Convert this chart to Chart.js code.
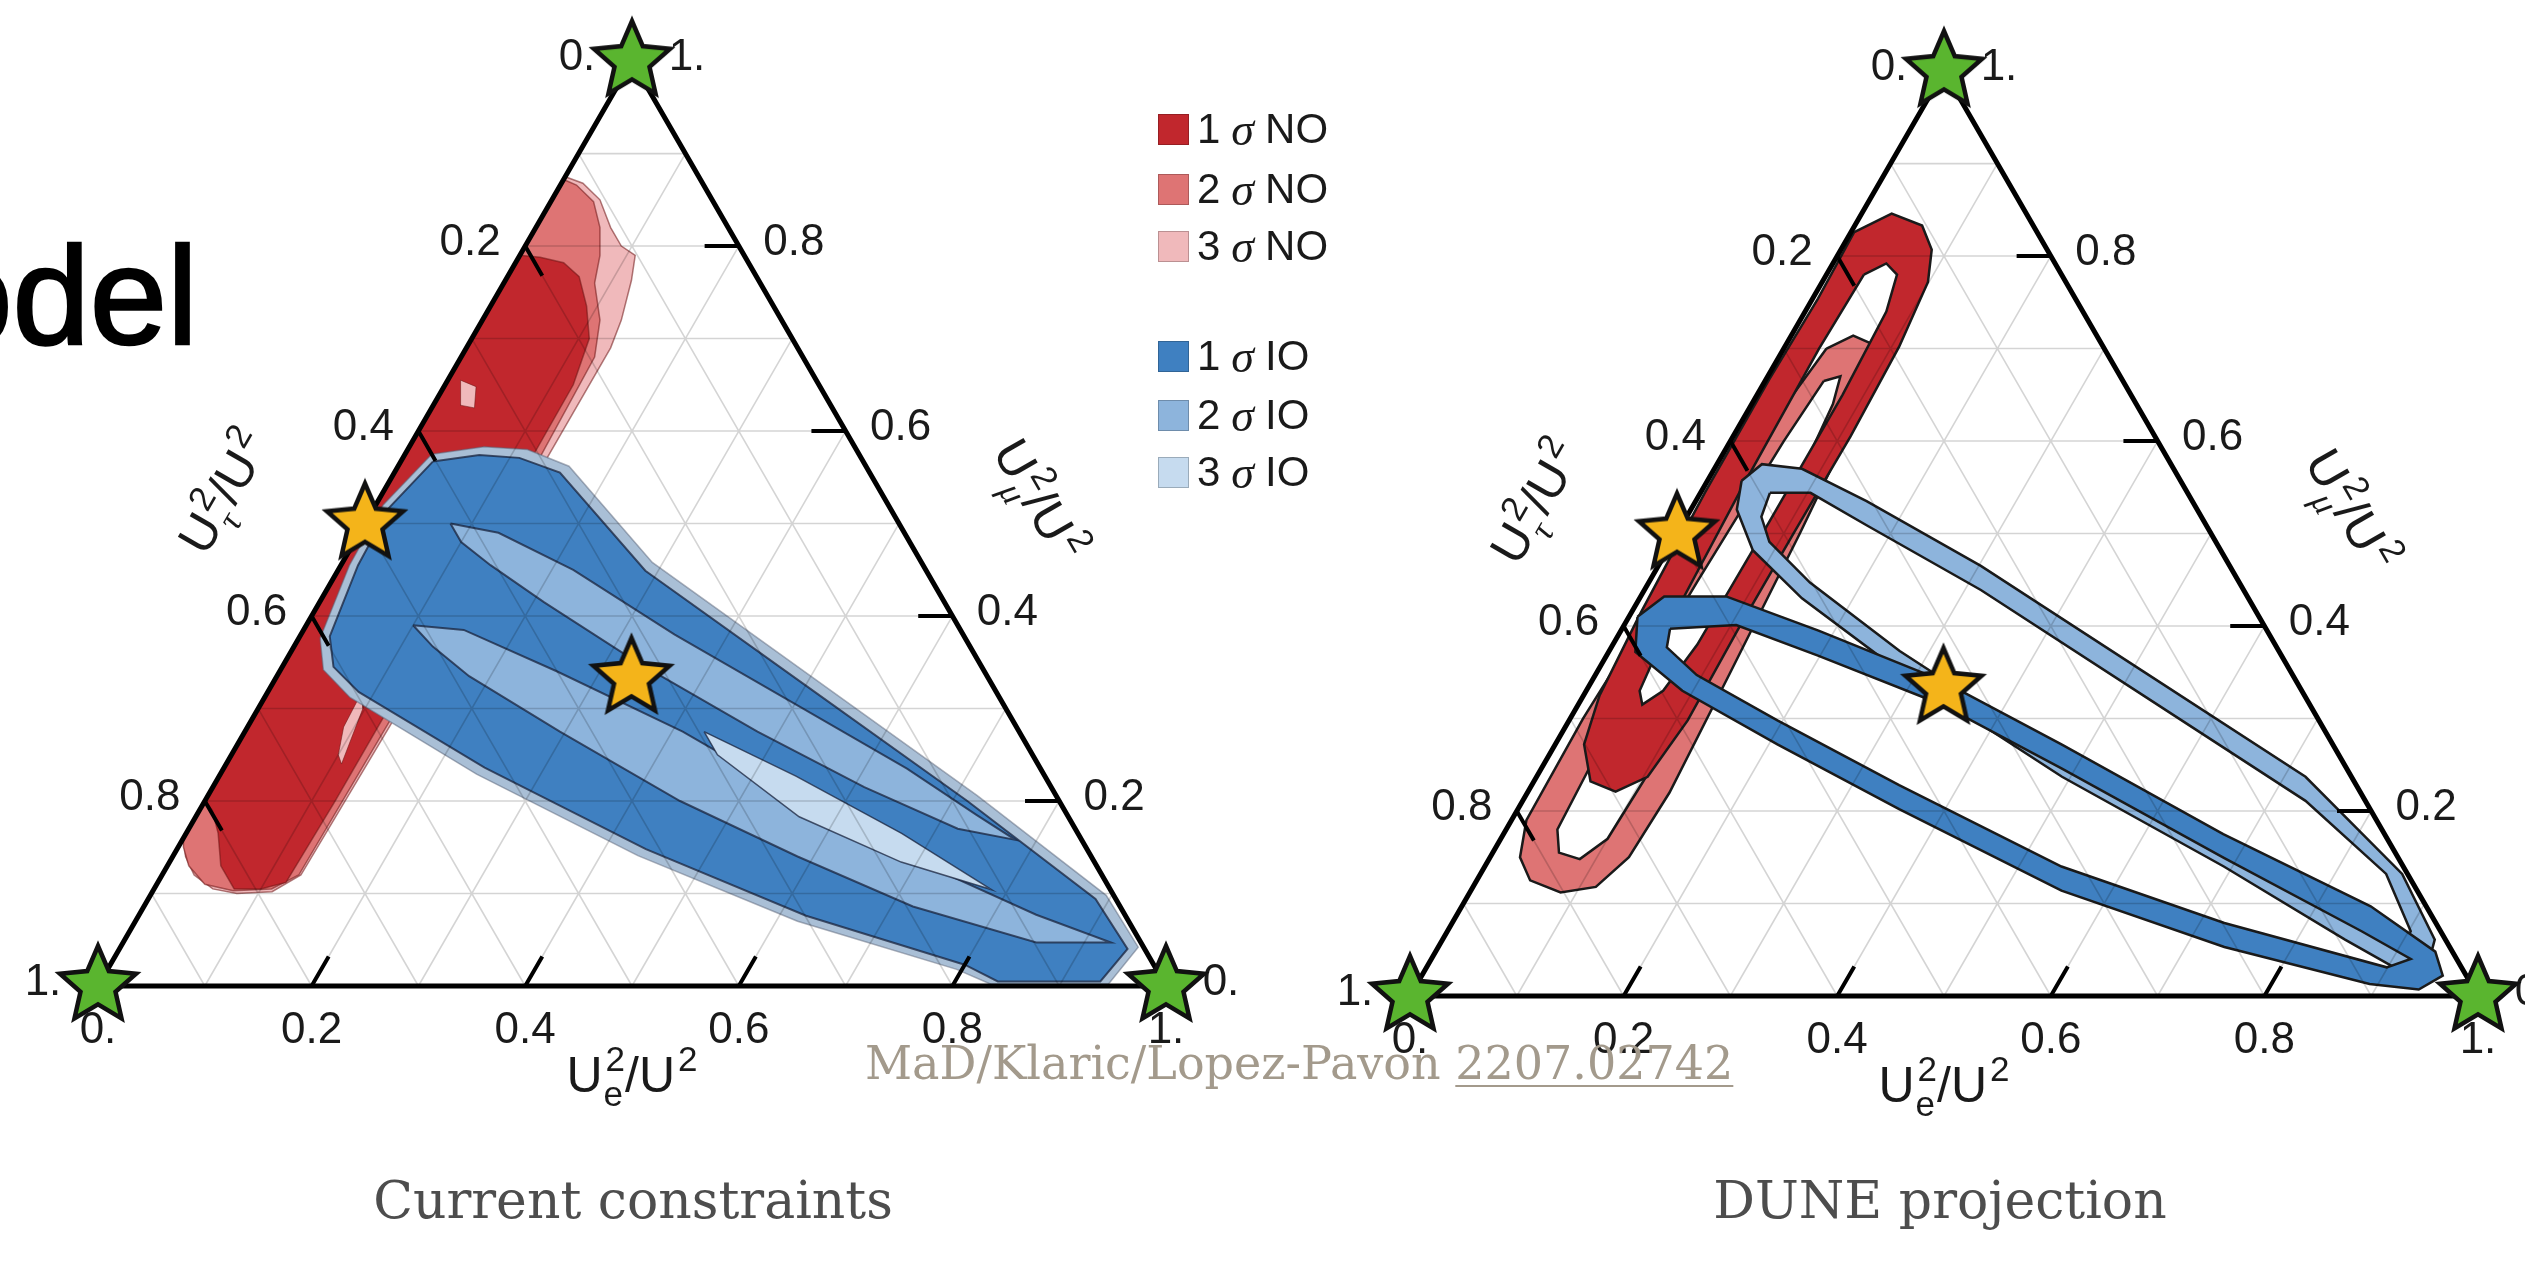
<!DOCTYPE html>
<html>
<head>
<meta charset="utf-8">
<title>Ternary constraints</title>
<script src="https://cdn.jsdelivr.net/npm/chart.js@4.4.1/dist/chart.umd.min.js"></script>
<style>
  html, body { margin: 0; padding: 0; background: #fff; }
  body { position: relative; width: 2525px; height: 1268px; overflow: hidden; font-family: "Liberation Sans", Arial, sans-serif; }
  canvas { position: absolute; top: 0; }
  #model { position: absolute; left: -500px; width: 698px; top: 226px; text-align: right; font-size: 139px; line-height: 1; color: #000; -webkit-text-stroke: 2.5px #000; }
  .caption { position: absolute; top: 1174px; font-family: "DejaVu Serif", serif; font-size: 52px; line-height: 1; color: #4d4d4d; white-space: nowrap; transform: translateX(-50%); }
  #cite { position: absolute; left: 865px; top: 1040px; font-family: "DejaVu Serif", serif; font-size: 46px; line-height: 1; color: #a39a8c; white-space: nowrap; }
  #cite u { text-decoration-thickness: 2px; text-underline-offset: 6px; }
  .item { position: absolute; left: 1158px; height: 44px; display: flex; align-items: center; white-space: nowrap; font-size: 42px; color: #1a1a1a; }
  .sw { width: 31px; height: 31px; box-sizing: border-box; border: 1.5px solid rgba(0,0,0,0.22); margin-right: 8px; }
  .item i { font-family: "Liberation Serif", serif; font-size: 46px; margin: 0 11px; }
</style>
</head>
<body>
<canvas id="left" width="1260" height="1268" style="left:0"></canvas>
<canvas id="right" width="1260" height="1268" style="left:1265px"></canvas>
<div id="model">Model</div>
<div class="caption" style="left:633px">Current constraints</div>
<div class="caption" style="left:1940px">DUNE projection</div>
<div id="cite">MaD/Klaric/Lopez-Pavon <u>2207.02742</u></div>
<div id="legend"></div>
<script>
// points are [Ue²/U², Uμ²/U²]; Uτ²/U² is what is left
const AXIS_VALUES = [0, 0.2, 0.4, 0.6, 0.8, 1];
const AXIS_TEXT = ['0.', '0.2', '0.4', '0.6', '0.8', '1.'];
const TICK_VALUES = [0.2, 0.4, 0.6, 0.8];
const GRID_VALUES = [0.1, 0.2, 0.3, 0.4, 0.5, 0.6, 0.7, 0.8, 0.9];
const CORNERS = [[0, 0], [1, 0], [0, 1]];
const BENCHMARKS = [[0, 0.5], [0.333, 0.333]];

const NO_COLORS = ['#c1272d', '#de7474', '#f0b9bb'];
const IO_COLORS = ['#3f80c1', '#8db4dc', '#c6dbef'];
const SIGMAS = ['1', '2', '3'];

// current constraints, normal ordering
const curNO3 = [[0,0.875],[0.02,0.868],[0.045,0.85],[0.07,0.82],[0.09,0.80],[0.108,0.79],[0.118,0.763],[0.13,0.72],[0.135,0.69],[0.135,0.5],[0.133,0.3],[0.13,0.12],[0.112,0.102],[0.08,0.1],[0.055,0.105],[0.03,0.12],[0.012,0.14],[0,0.16]];
const curNO2 = [[0,0.872],[0.015,0.866],[0.04,0.848],[0.06,0.82],[0.075,0.79],[0.085,0.76],[0.11,0.72],[0.125,0.68],[0.13,0.5],[0.13,0.3],[0.128,0.12],[0.11,0.105],[0.075,0.103],[0.045,0.11],[0.02,0.13],[0.005,0.15],[0,0.16]];
const curNO1 = [[0,0.79],[0.02,0.788],[0.045,0.782],[0.067,0.767],[0.09,0.735],[0.11,0.70],[0.12,0.65],[0.122,0.4],[0.122,0.2],[0.12,0.112],[0.1,0.105],[0.075,0.105],[0.05,0.13],[0.03,0.165],[0.012,0.19],[0,0.2]];
const curNOholeA = [[0.012,0.655],[0.03,0.648],[0.04,0.625],[0.025,0.628]];
const curNOholeB = [[0.088,0.32],[0.098,0.30],[0.108,0.24],[0.1,0.25],[0.09,0.28]];

// current constraints, inverted ordering
const curIO3 = [[0.025,0.575],[0.07,0.583],[0.112,0.58],[0.16,0.562],[0.29,0.458],[0.505,0.332],[0.72,0.206],[0.895,0.098],[0.953,0.042],[0.945,0.002],[0.835,0.002],[0.795,0.018],[0.62,0.07],[0.435,0.141],[0.24,0.229],[0.08,0.312],[0.04,0.342],[0.02,0.376],[0.008,0.455],[0.007,0.52]];
const curIO1 = [[0.03,0.567],[0.07,0.574],[0.109,0.571],[0.155,0.555],[0.288,0.449],[0.50,0.325],[0.714,0.20],[0.887,0.094],[0.944,0.04],[0.936,0.005],[0.84,0.005],[0.80,0.023],[0.625,0.076],[0.439,0.148],[0.244,0.236],[0.085,0.318],[0.048,0.345],[0.028,0.378],[0.016,0.455],[0.014,0.517]];
const curIO2a = [[0.08,0.50],[0.13,0.49],[0.22,0.45],[0.35,0.38],[0.50,0.305],[0.64,0.235],[0.73,0.185],[0.78,0.158],[0.72,0.17],[0.61,0.215],[0.48,0.275],[0.33,0.35],[0.21,0.415],[0.14,0.455],[0.10,0.48]];
const curIO2b = [[0.10,0.39],[0.15,0.385],[0.26,0.34],[0.41,0.275],[0.55,0.205],[0.70,0.135],[0.84,0.077],[0.925,0.047],[0.855,0.047],[0.72,0.086],[0.585,0.14],[0.445,0.20],[0.295,0.275],[0.18,0.335],[0.13,0.367]];
const curIO3s = [[0.43,0.275],[0.54,0.227],[0.67,0.165],[0.785,0.104],[0.685,0.134],[0.565,0.183],[0.455,0.25]];

// DUNE projection, rings given as outer and inner boundary
const duneNO1out = [[0.003,0.826],[0.028,0.846],[0.063,0.833],[0.085,0.807],[0.099,0.772],[0.107,0.702],[0.110,0.605],[0.109,0.50],[0.109,0.395],[0.111,0.298],[0.104,0.237],[0.082,0.221],[0.053,0.232],[0.027,0.272],[0.015,0.325],[0.009,0.412],[0.004,0.544],[0.003,0.667],[0.005,0.754]];
const duneNO1in = [[0.035,0.78],[0.05,0.792],[0.066,0.78],[0.076,0.74],[0.08,0.65],[0.08,0.5],[0.079,0.38],[0.072,0.33],[0.06,0.315],[0.05,0.33],[0.042,0.40],[0.036,0.55],[0.033,0.70]];
const duneNO2out = [[0.04,0.70],[0.058,0.714],[0.08,0.705],[0.095,0.68],[0.105,0.62],[0.115,0.5],[0.125,0.35],[0.133,0.22],[0.13,0.15],[0.115,0.118],[0.085,0.112],[0.05,0.125],[0.028,0.15],[0.014,0.19],[0.012,0.3],[0.018,0.45],[0.027,0.6]];
const duneNO2in = [[0.055,0.665],[0.068,0.67],[0.076,0.64],[0.085,0.55],[0.095,0.4],[0.103,0.25],[0.1,0.17],[0.085,0.148],[0.062,0.155],[0.048,0.18],[0.042,0.3],[0.045,0.45],[0.05,0.6]];
const duneIO2out = [[0.032,0.557],[0.042,0.575],[0.082,0.570],[0.160,0.535],[0.302,0.465],[0.511,0.351],[0.720,0.237],[0.863,0.132],[0.929,0.061],[0.937,0.031],[0.916,0.026],[0.845,0.061],[0.692,0.140],[0.492,0.237],[0.283,0.351],[0.152,0.430],[0.080,0.482],[0.043,0.526]];
const duneIO2in = [[0.065,0.544],[0.103,0.544],[0.173,0.509],[0.315,0.439],[0.524,0.325],[0.733,0.211],[0.848,0.132],[0.902,0.070],[0.903,0.053],[0.844,0.079],[0.681,0.162],[0.481,0.259],[0.272,0.373],[0.151,0.447],[0.091,0.491],[0.070,0.518]];
const duneIO1out = [[0.008,0.41],[0.022,0.432],[0.08,0.432],[0.185,0.395],[0.325,0.342],[0.474,0.272],[0.674,0.175],[0.851,0.097],[0.936,0.048],[0.956,0.022],[0.941,0.007],[0.892,0.013],[0.736,0.053],[0.553,0.114],[0.357,0.202],[0.208,0.272],[0.09,0.33],[0.025,0.372]];
const duneIO1in = [[0.045,0.397],[0.105,0.401],[0.198,0.368],[0.338,0.316],[0.487,0.246],[0.688,0.149],[0.856,0.070],[0.917,0.040],[0.899,0.031],[0.723,0.079],[0.540,0.140],[0.344,0.228],[0.195,0.298],[0.095,0.347],[0.052,0.377]];

const SIDE = 1068; // px per unit of the triangle side
const R3 = Math.sqrt(3) / 2;
const GAP = () => ({ x: null, y: null });
const toXY = ([e, m]) => ({ x: e + m / 2, y: m * R3 });

function starImage(fill, r) {
  const lw = 4.5;
  const size = Math.ceil(2 * r + 3 * lw);
  const c = document.createElement('canvas');
  c.width = c.height = size;
  const g = c.getContext('2d');
  g.translate(size / 2, size / 2);
  g.beginPath();
  for (let i = 0; i < 10; i++) {
    const rad = i % 2 ? r * 0.46 : r;
    const a = -Math.PI / 2 + i * Math.PI / 5;
    g.lineTo(rad * Math.cos(a), rad * Math.sin(a));
  }
  g.closePath();
  g.fillStyle = fill;
  g.fill();
  g.lineWidth = lw;
  g.strokeStyle = '#111';
  g.stroke();
  return c;
}
const GREEN_STAR = starImage('#5ab52f', 40);
const YELLOW_STAR = starImage('#f4b41a', 40);

function polygon(pts, fill, line, width) {
  return { data: pts.concat([pts[0]]).map(toXY), showLine: true, fill: 'shape', backgroundColor: fill,
           borderColor: line || fill, borderWidth: width || 0, pointRadius: 0 };
}
function outline(pts, color, width) {
  return { data: pts.concat([pts[0]]).map(toXY), showLine: true, borderColor: color, borderWidth: width, pointRadius: 0 };
}
// inner boundary run backwards so the non-zero fill leaves the hole empty
function ring(outer, inner, fill, line, width) {
  const path = outer.concat([outer[0]], inner.slice().reverse(), [inner[inner.length - 1]]);
  return [
    { data: path.map(toXY), showLine: true, fill: 'shape', backgroundColor: fill, borderWidth: 0, pointRadius: 0 },
    outline(outer, line, width),
    outline(inner, line, width)
  ];
}

function gridData() {
  const d = [];
  for (const g of GRID_VALUES) {
    d.push(toXY([g, 0]), toXY([g, 1 - g]), GAP());
    d.push(toXY([0, g]), toXY([1 - g, g]), GAP());
    d.push(toXY([0, 1 - g]), toXY([1 - g, 0]), GAP());
  }
  return d;
}
function tickData() {
  const L = 0.032, d = [];
  for (const t of TICK_VALUES) {
    d.push(toXY([t, 0]), toXY([t, L]), GAP());
    d.push(toXY([0, 1 - t]), toXY([L, 1 - t - L]), GAP());
    d.push(toXY([1 - t, t]), toXY([1 - t - L, t]), GAP());
  }
  return d;
}

function richText(ctx, parts, cx, cy, angle, size) {
  const big = size + 'px "Liberation Sans", Arial, sans-serif';
  const small = (size * 0.7) + 'px "Liberation Sans", Arial, sans-serif';
  const greek = 'italic ' + (size * 0.72) + 'px "Liberation Serif", serif';
  const widthOf = (p) => {
    if (p.t) { ctx.font = big; return ctx.measureText(p.t).width; }
    ctx.font = p.greek ? greek : small;
    const a = p.sub ? ctx.measureText(p.sub).width : 0;
    ctx.font = small;
    const b = p.sup ? ctx.measureText(p.sup).width : 0;
    return Math.max(a, b) + size * 0.06;
  };
  const total = parts.reduce((s, p) => s + widthOf(p), 0);
  ctx.save();
  ctx.translate(cx, cy);
  ctx.rotate(angle);
  ctx.textAlign = 'left';
  ctx.textBaseline = 'alphabetic';
  let x = -total / 2;
  const base = size * 0.36;
  for (const p of parts) {
    const w = widthOf(p);
    if (p.t) { ctx.font = big; ctx.fillText(p.t, x, base); }
    if (p.sub) { ctx.font = p.greek ? greek : small; ctx.fillText(p.sub, x + size * 0.02, base + size * 0.28); }
    if (p.sup) { ctx.font = small; ctx.fillText(p.sup, x + size * 0.06, base - size * 0.42); }
    x += w;
  }
  ctx.restore();
}

const TITLE_E = [{ t: 'U' }, { sub: 'e', sup: '2' }, { t: '/U' }, { sup: '2' }];
const TITLE_TAU = [{ t: 'U' }, { sub: 'τ', sup: '2', greek: true }, { t: '/U' }, { sup: '2' }];
const TITLE_MU = [{ t: 'U' }, { sub: 'μ', sup: '2', greek: true }, { t: '/U' }, { sup: '2' }];

const axisText = {
  id: 'axisText',
  beforeDatasetsDraw(chart) {
    const ctx = chart.ctx;
    const at = (p) => {
      const q = toXY(p);
      return [chart.scales.x.getPixelForValue(q.x), chart.scales.y.getPixelForValue(q.y)];
    };
    ctx.save();
    ctx.fillStyle = '#1a1a1a';
    ctx.font = '44px "Liberation Sans", Arial, sans-serif';
    ctx.textAlign = 'center';
    ctx.textBaseline = 'middle';
    AXIS_VALUES.forEach((v, i) => {
      let [x, y] = at([v, 0]);
      ctx.fillText(AXIS_TEXT[i], x, y + 45);
      [x, y] = at([0, 1 - v]);
      ctx.fillText(AXIS_TEXT[i], x - 55, y - 3);
      [x, y] = at([1 - v, v]);
      ctx.fillText(AXIS_TEXT[i], x + 55, y - 3);
    });
    let [x, y] = at([0.5, 0]);
    richText(ctx, TITLE_E, x, y + 88, 0, 50);
    [x, y] = at([0, 0.5]);
    richText(ctx, TITLE_TAU, x - 142, y - 32, -Math.PI / 3, 50);
    [x, y] = at([0.5, 0.5]);
    richText(ctx, TITLE_MU, x + 141, y - 24, Math.PI / 3, 50);
    ctx.restore();
  }
};

function buildChart(id, canvasLeft, blx, bly, contours) {
  const canvas = document.getElementById(id);
  const w = canvas.width, h = canvas.height;
  const xmin = -(blx - canvasLeft) / SIDE;
  const ymin = -(h - bly) / SIDE;
  const layers = [
    ...contours,
    { data: gridData(), showLine: true, borderColor: 'rgba(0,0,0,0.17)', borderWidth: 1.6, pointRadius: 0, spanGaps: false },
    { data: tickData(), showLine: true, borderColor: '#000', borderWidth: 4, pointRadius: 0, spanGaps: false },
    { data: CORNERS.concat([CORNERS[0]]).map(toXY), showLine: true, borderColor: '#000', borderWidth: 5, pointRadius: 0 },
    { data: BENCHMARKS.map(toXY), pointStyle: YELLOW_STAR, pointRadius: 30, showLine: false },
    { data: CORNERS.map(toXY), pointStyle: GREEN_STAR, pointRadius: 30, showLine: false }
  ];
  // first dataset ends up at the bottom
  layers.forEach((d, i) => { d.order = layers.length - i; d.tension = 0; });
  return new Chart(canvas, {
    type: 'scatter',
    data: { datasets: layers },
    options: {
      responsive: false,
      animation: false,
      devicePixelRatio: 1,
      events: [],
      layout: { padding: 0, autoPadding: false },
      plugins: { legend: { display: false }, tooltip: { enabled: false } },
      scales: {
        x: { type: 'linear', display: false, min: xmin, max: xmin + w / SIDE },
        y: { type: 'linear', display: false, min: ymin, max: ymin + h / SIDE }
      }
    },
    plugins: [axisText]
  });
}

const redLine = 'rgba(110,20,20,0.55)';
const blueLine = 'rgba(25,35,60,0.75)';
buildChart('left', 0, 98, 986, [
  polygon(curNO3, NO_COLORS[2], redLine, 1.5),
  polygon(curNO2, NO_COLORS[1], redLine, 1.5),
  polygon(curNO1, NO_COLORS[0], redLine, 1.5),
  polygon(curNOholeA, NO_COLORS[2], redLine, 1),
  polygon(curNOholeB, NO_COLORS[2], redLine, 1),
  polygon(curIO3, '#a9bfd6', 'rgba(90,100,120,0.5)', 1.5),
  polygon(curIO1, IO_COLORS[0], blueLine, 2),
  polygon(curIO2a, IO_COLORS[1], blueLine, 2),
  polygon(curIO2b, IO_COLORS[1], blueLine, 2),
  polygon(curIO3s, IO_COLORS[2], blueLine, 1.5)
]);
buildChart('right', 1265, 1410, 996, [
  ...ring(duneNO2out, duneNO2in, NO_COLORS[1], '#1a1a1a', 2.5),
  ...ring(duneNO1out, duneNO1in, NO_COLORS[0], '#1a1a1a', 2.5),
  ...ring(duneIO2out, duneIO2in, IO_COLORS[1], '#1a1a1a', 2.5),
  ...ring(duneIO1out, duneIO1in, IO_COLORS[0], '#1a1a1a', 2.5)
]);

// legend
const legendTops = [107, 167, 224, 334, 393, 450];
const legend = document.getElementById('legend');
[['NO', NO_COLORS], ['IO', IO_COLORS]].forEach(([name, colors], g) => {
  SIGMAS.forEach((s, k) => {
    const row = document.createElement('div');
    row.className = 'item';
    row.style.top = legendTops[g * 3 + k] + 'px';
    row.innerHTML = '<span class="sw" style="background:' + colors[k] + '"></span>' + s + '<i>σ</i>' + name;
    legend.appendChild(row);
  });
});
</script>
</body>
</html>
